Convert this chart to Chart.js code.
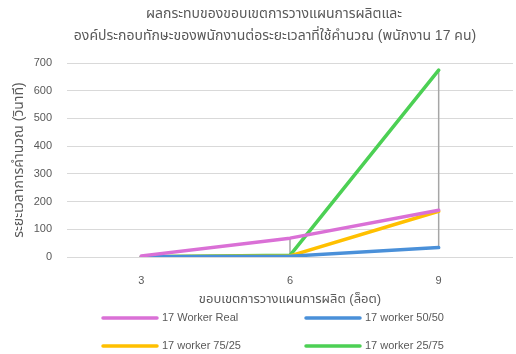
<!DOCTYPE html>
<html>
<head>
<meta charset="utf-8">
<script src="https://cdn.jsdelivr.net/npm/chart.js@4"></script>
<style>
html,body{margin:0;padding:0;background:#fff;}
#wrap{width:516px;height:354px;position:relative;}
</style>
</head>
<body>
<div id="wrap"><canvas id="c" width="516" height="354"></canvas></div>
<script>
const categories = ['3', '6', '9'];
const seriesNames = ['17 Worker Real', '17 worker 50/50', '17 worker 75/25', '17 worker 25/75'];
const realValues = [4, 68, 169];
const w5050Values = [1, 3, 34];
const w7525Values = [1, 4, 165];
const w2575Values = [1, 6, 674];
const yTicks = [0, 100, 200, 300, 400, 500, 600, 700];
const titleLines = ['ผลกระทบของขอบเขตการวางแผนการผลิตและ', 'องค์ประกอบทักษะของพนักงานต่อระยะเวลาที่ใช้คำนวณ (พนักงาน 17 คน)'];
const xTitle = 'ขอบเขตการวางแผนการผลิต (ล็อต)';
const yTitle = 'ระยะเวลาการคำนวณ (วินาที)';

const colors = ['#DA70D6', '#4A90D9', '#FFC000', '#4CD054'];
const FONT = "'Liberation Sans',Arial,'Noto Sans Thai',sans-serif";
const TXT = '#595959';

const hiLowPlugin = {
  id: 'hiLow',
  beforeDatasetsDraw(chart) {
    const ctx = chart.ctx, xs = chart.scales.x, ys = chart.scales.y;
    ctx.save();
    ctx.strokeStyle = '#A6A6A6';
    ctx.lineWidth = 1.5;
    categories.forEach((c, i) => {
      const vals = chart.data.datasets.map(d => d.data[i]);
      const x = xs.getPixelForValue(i);
      ctx.beginPath();
      ctx.moveTo(x, ys.getPixelForValue(Math.min(...vals)));
      ctx.lineTo(x, ys.getPixelForValue(Math.max(...vals)));
      ctx.stroke();
    });
    ctx.restore();
  }
};

const decorPlugin = {
  id: 'decor',
  afterDraw(chart) {
    const ctx = chart.ctx;
    ctx.save();
    ctx.fillStyle = TXT;
    ctx.textAlign = 'center';
    ctx.textBaseline = 'middle';
    ctx.font = '14px ' + FONT;
    ctx.fillText(titleLines[0], 274, 14);
    ctx.fillText(titleLines[1], 275, 36);
    // legend
    const pos = [[103, 318], [306, 318], [103, 346], [306, 346]];
    ctx.font = '11px ' + FONT;
    ctx.textAlign = 'left';
    chart.data.datasets.forEach((d, i) => {
      const [x, y] = pos[i];
      ctx.strokeStyle = d.borderColor;
      ctx.lineWidth = 3.5;
      ctx.lineCap = 'round';
      ctx.beginPath();
      ctx.moveTo(x, y);
      ctx.lineTo(x + 54, y);
      ctx.stroke();
      ctx.fillStyle = TXT;
      ctx.fillText(d.label, x + 59, y);
    });
    ctx.restore();
  }
};

const allSeries = [realValues, w5050Values, w7525Values, w2575Values];

new Chart(document.getElementById('c'), {
  type: 'line',
  data: {
    labels: categories,
    datasets: allSeries.map((v, i) => ({
      label: seriesNames[i],
      data: v,
      borderColor: colors[i],
      backgroundColor: colors[i],
      borderWidth: 3.5,
      pointRadius: 0,
      tension: 0,
      borderCapStyle: 'round',
      borderJoinStyle: 'round'
    }))
  },
  options: {
    responsive: false,
    animation: false,
    devicePixelRatio: 1,
    layout: { padding: { top: 63, left: 0, right: 3, bottom: 47 } },
    plugins: { legend: { display: false }, title: { display: false }, tooltip: { enabled: false } },
    scales: {
      x: {
        offset: true,
        grid: { display: false, drawTicks: false },
        border: { display: false },
        ticks: { color: TXT, font: { family: FONT, size: 11 }, padding: 17 },
        title: { display: true, text: xTitle, color: TXT, font: { family: FONT, size: 13 }, padding: { top: 0, bottom: 0 } },
        afterFit(s) { s.height = 50; }
      },
      y: {
        min: 0, max: 700,
        afterBuildTicks(s) { s.ticks = yTicks.map(v => ({ value: v })); },
        grid: { color: '#D9D9D9', lineWidth: 1, drawTicks: false },
        border: { display: false },
        ticks: { color: TXT, font: { family: FONT, size: 11 }, padding: 15 },
        title: { display: true, text: yTitle, color: TXT, font: { family: FONT, size: 14 }, padding: { top: 11, bottom: 0 } },
        afterFit(s) { s.width = 67; }
      }
    }
  },
  plugins: [hiLowPlugin, decorPlugin]
});
</script>
</body>
</html>
